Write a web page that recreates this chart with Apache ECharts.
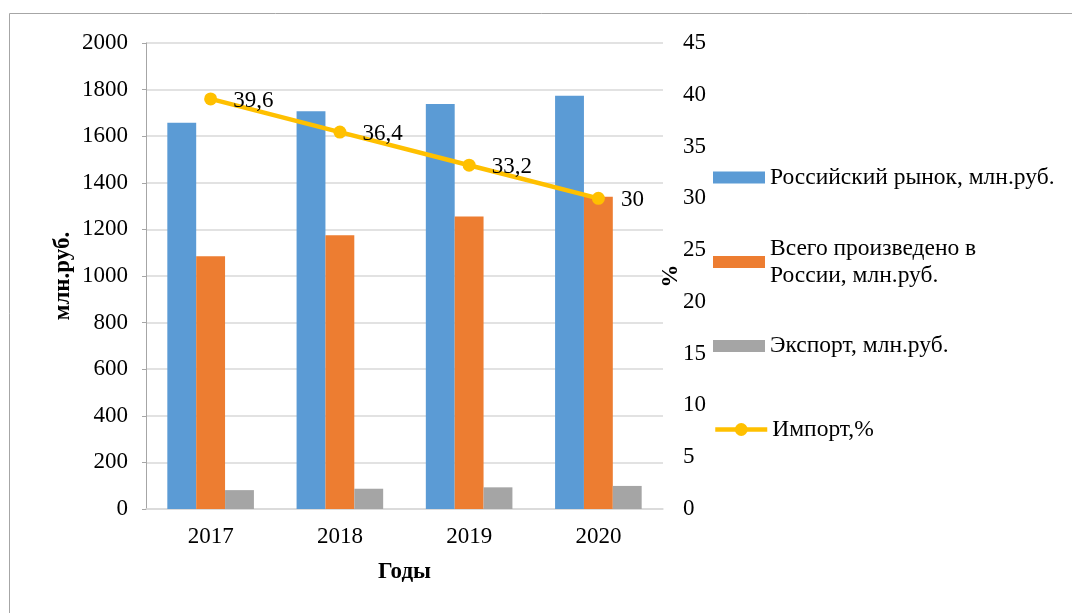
<!DOCTYPE html>
<html>
<head>
<meta charset="utf-8">
<script src="https://cdn.jsdelivr.net/npm/echarts@6/dist/echarts.min.js"></script>
<style>
html,body{margin:0;padding:0;background:#fff;}
#c{width:1072px;height:613px;}
</style>
</head>
<body>
<div id="c"></div>
<script>
var years = ['2017', '2018', '2019', '2020'];
var marketValues = [1658, 1707, 1738, 1774];
var producedValues = [1085, 1175, 1255, 1340];
var exportValues = [81, 87, 93, 99];
var importPercent = [39.6, 36.4, 33.2, 30];
var leftTicks = {min: 0, max: 2000, interval: 200};
var rightTicks = {min: 0, max: 45, interval: 5};
var names = ['Российский рынок, млн.руб.', 'Всего произведено в\nРоссии, млн.руб.', 'Экспорт, млн.руб.', 'Импорт,%'];

var FONT = 'Liberation Serif';
var FS = 23;
var chart = echarts.init(document.getElementById('c'), null, {renderer: 'canvas'});

function legendOf(name, top, icon, itemHeight, extraText) {
  var item = {name: name};
  if (icon) item.icon = icon;
  return {
    left: 713, top: top, padding: 0, orient: 'vertical',
    itemWidth: 52, itemHeight: itemHeight, selectedMode: false,
    lineStyle: {width: 4.5},
    data: [item],
    textStyle: Object.assign({fontFamily: FONT, fontSize: 23.5, color: '#000', lineHeight: 27}, extraText || {})
  };
}

chart.setOption({
  animation: false,
  textStyle: {fontFamily: FONT},
  graphic: [{
    type: 'rect',
    shape: {x: 9.5, y: 13.5, width: 1100, height: 700},
    style: {fill: 'none', stroke: '#A6A6A6', lineWidth: 1}
  }],
  grid: {left: 146, right: 409, top: 43, bottom: 104, containLabel: false},
  legend: [
    legendOf(names[0], 164, 'rect', 12),
    legendOf(names[1], 221.5, 'rect', 12, {padding: [27, 0, 0, 0]}),
    legendOf(names[2], 332.5, 'rect', 12),
    legendOf(names[3], 416, null, 16)
  ],
  xAxis: {
    type: 'category', data: years,
    axisLine: {show: true, lineStyle: {color: '#D9D9D9', width: 1.5}},
    axisTick: {show: false},
    axisLabel: {fontFamily: FONT, fontSize: FS, color: '#000', margin: 16},
    name: 'Годы', nameLocation: 'middle', nameGap: 52, nameMoveOverlap: false,
    nameTextStyle: {fontFamily: FONT, fontSize: FS, fontWeight: 'bold', color: '#000'}
  },
  yAxis: [{
    type: 'value', min: leftTicks.min, max: leftTicks.max, interval: leftTicks.interval,
    axisLine: {show: true, lineStyle: {color: '#A6A6A6', width: 1}},
    axisTick: {show: true, length: 4, lineStyle: {color: '#A6A6A6'}},
    axisLabel: {fontFamily: FONT, fontSize: FS, color: '#000', margin: 18,
      formatter: function (v) { return String(v); }},
    splitLine: {lineStyle: {color: '#D9D9D9', width: 1.5}},
    name: 'млн.руб.', nameLocation: 'middle', nameGap: 71, nameMoveOverlap: false,
    nameTextStyle: {fontFamily: FONT, fontSize: FS, fontWeight: 'bold', color: '#000'}
  }, {
    type: 'value', min: rightTicks.min, max: rightTicks.max, interval: rightTicks.interval,
    axisLine: {show: false}, axisTick: {show: false},
    axisLabel: {fontFamily: FONT, fontSize: FS, color: '#000', margin: 20,
      formatter: function (v) { return String(v); }},
    splitLine: {show: false},
    name: '%', nameLocation: 'middle', nameGap: -3, nameMoveOverlap: false,
    nameTextStyle: {fontFamily: FONT, fontSize: FS, fontWeight: 'bold', color: '#000'}
  }],
  series: [{
    name: names[0], type: 'bar', data: marketValues,
    barGap: '0%', barCategoryGap: '33%',
    itemStyle: {color: '#5B9BD5'}
  }, {
    name: names[1], type: 'bar', data: producedValues,
    barGap: '0%', barCategoryGap: '33%',
    itemStyle: {color: '#ED7D31'}
  }, {
    name: names[2], type: 'bar', data: exportValues,
    barGap: '0%', barCategoryGap: '33%',
    itemStyle: {color: '#A5A5A5'}
  }, {
    name: names[3], type: 'line', yAxisIndex: 1, data: importPercent,
    symbol: 'circle', symbolSize: 13,
    lineStyle: {color: '#FFC000', width: 4.5},
    itemStyle: {color: '#FFC000'},
    label: {
      show: true, position: 'right', distance: 16, offset: [0, 2],
      fontFamily: FONT, fontSize: FS, color: '#000',
      formatter: function (p) { return String(p.value).replace('.', ','); }
    }
  }]
});
</script>
</body>
</html>
